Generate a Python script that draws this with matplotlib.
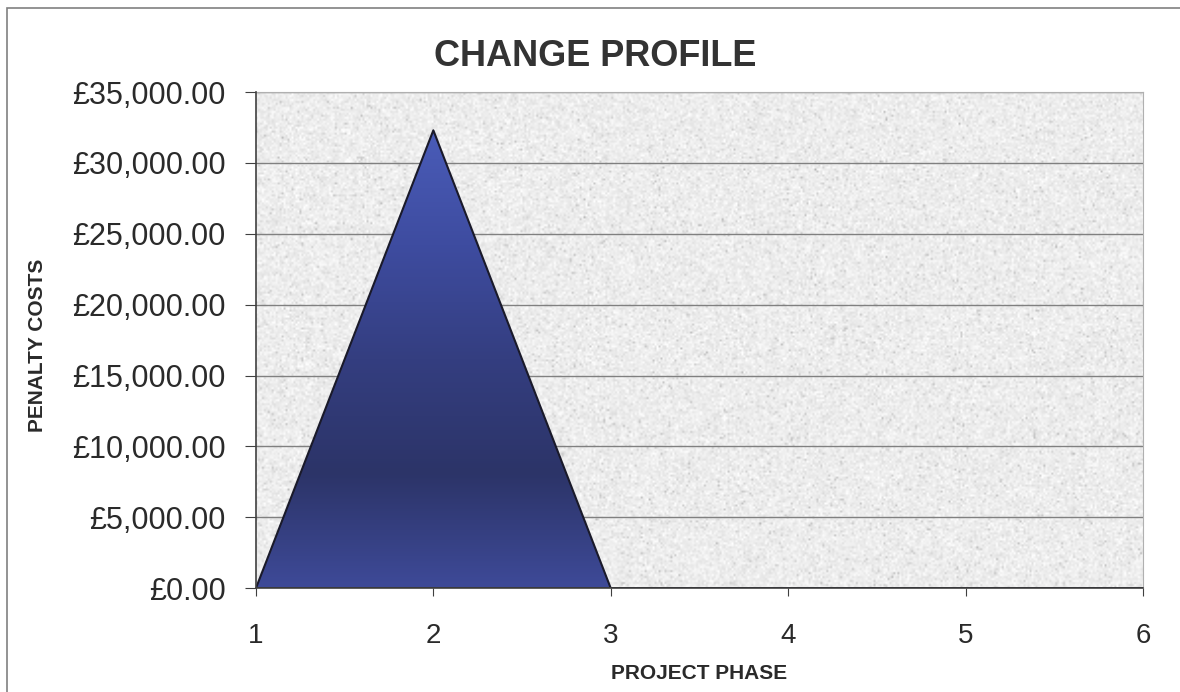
import numpy as np
import matplotlib.pyplot as plt
from matplotlib.colors import LinearSegmentedColormap
from matplotlib.patches import Rectangle
from matplotlib.ticker import FuncFormatter

phases = [1, 2, 3, 4, 5, 6]
penalty = [0, 32300, 0, 0, 0, 0]
y_ticks = [0, 5000, 10000, 15000, 20000, 25000, 30000, 35000]

plt.rcParams['font.family'] = ['Liberation Sans', 'DejaVu Sans']

fig = plt.figure(figsize=(11.8, 6.92), dpi=100)
ax = fig.add_axes([0.2169, 0.150, 0.7517, 0.717])

# speckled "granite" backdrop (purely decorative)
rng = np.random.default_rng(3)
tex = 0.93 + 0.03 * rng.standard_normal((250, 450))
spots = rng.random((250, 450)) < 0.06
tex[spots] -= 0.15 * rng.random(spots.sum())
tex = np.clip(tex, 0.7, 1.0)
ax.imshow(tex, cmap='gray', vmin=0, vmax=1, extent=[1, 6, 0, 35000],
          aspect='auto', zorder=0, interpolation='bilinear')

ax.set_xlim(1, 6)
ax.set_ylim(0, 35000)
ax.set_yticks(y_ticks)
ax.set_xticks(phases)
ax.yaxis.set_major_formatter(FuncFormatter(lambda v, p: '£{:,.2f}'.format(v)))
ax.grid(axis='y', color='#808080', linewidth=1.0, zorder=1)

# gradient filled area
poly = ax.fill_between(phases, penalty, 0, facecolor='none', edgecolor='#1a1a2a',
                       linewidth=1.5, zorder=3)
cmap = LinearSegmentedColormap.from_list('blu', ['#3e4a98', '#2c3468', '#343e80',
                                                 '#3e4ca0', '#4a5cb8'])
grad = np.linspace(0, 1, 256).reshape(-1, 1)
im = ax.imshow(grad, cmap=cmap, extent=[1, 6, 0, max(penalty)], origin='lower',
               aspect='auto', zorder=2)
path = poly.get_paths()[0]
im.set_clip_path(path, transform=ax.transData)

for s in ['top', 'right']:
    ax.spines[s].set_color('#b0b0b0')
for s in ['left', 'bottom']:
    ax.spines[s].set_color('#404040')
    ax.spines[s].set_linewidth(1.2)
ax.spines['left'].set_zorder(4)
ax.spines['bottom'].set_zorder(4)

ax.tick_params(axis='y', labelsize=22, length=8, color='#404040', pad=14,
               labelcolor='#2a2a2a')
ax.tick_params(axis='x', labelsize=20, length=6, color='#404040', pad=19,
               labelcolor='#2a2a2a')

ax.set_xlabel('PROJECT PHASE', fontsize=15, fontweight='bold', color='#2a2a2a')
ax.xaxis.set_label_coords(0.5, -0.152)
ax.set_ylabel('PENALTY COSTS', fontsize=15, fontweight='bold', color='#2a2a2a')
ax.yaxis.set_label_coords(-0.236, 0.49)

fig.text(0.504, 0.918, 'CHANGE PROFILE', ha='center', va='center', fontsize=26,
         fontweight='bold', color='#333333')

fig.patches.append(Rectangle((0.006, -0.01), 1.0, 0.998, transform=fig.transFigure,
                             fill=False, edgecolor='#808080', linewidth=1.2))

fig.savefig('out.png', dpi=100)
